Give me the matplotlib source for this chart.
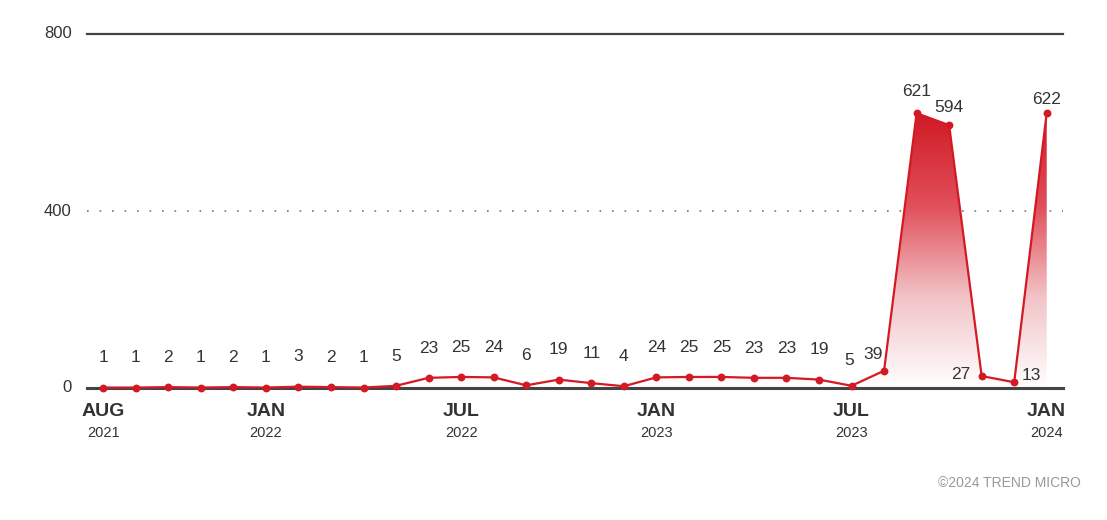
import numpy as np
import matplotlib
matplotlib.use("Agg")
import matplotlib.pyplot as plt
from matplotlib.colors import LinearSegmentedColormap
from matplotlib.patches import Polygon
import matplotlib.transforms as mtransforms

plt.rcParams['font.family'] = ['Liberation Sans', 'DejaVu Sans']

# monthly counts, Aug 2021 - Jan 2024
counts = [1, 1, 2, 1, 2, 1, 3, 2, 1, 5, 23, 25, 24, 6, 19, 11, 4,
          24, 25, 25, 23, 23, 19, 5, 39, 621, 594, 27, 13, 622]
tick_idx = [0, 5, 11, 17, 23, 29]
tick_months = ['AUG', 'JAN', 'JUL', 'JAN', 'JUL', 'JAN']
tick_years = ['2021', '2022', '2022', '2023', '2023', '2024']
y_ticks = [0, 400, 800]

red = '#d31a24'
x = np.arange(len(counts))
y = np.array(counts)

fig = plt.figure(figsize=(11.07, 5.2), dpi=100)
ax = fig.add_axes([87 / 1107, 1 - 388 / 520, (1063 - 87) / 1107, (388 - 34) / 520])
ax.set_xlim(-0.5, len(counts) - 0.5)
ax.set_ylim(0, 800)
ax.axis('off')

# gridlines
ax.axhline(800, color='#444444', lw=1.6, zorder=1, clip_on=False)
ax.axhline(400, color='#777777', lw=1.2, ls=(0, (1, 6.5)), zorder=1)
ax.axhline(0, color='#444444', lw=2.2, zorder=2, clip_on=False)

# gradient fill under the line
cmap = LinearSegmentedColormap.from_list('rg', ['#ffffff', '#f2c2c6', '#e04e59', '#d01a24'])
grad = np.linspace(0, 1, 256).reshape(-1, 1)
top = max(counts)
im = ax.imshow(grad, extent=[x[0], x[-1], 0, top], origin='lower', aspect='auto',
               cmap=cmap, zorder=1.5)
poly = Polygon(np.vstack([np.column_stack([x, y]), [[x[-1], 0], [x[0], 0]]]),
               closed=True, transform=ax.transData, facecolor='none', edgecolor='none')
ax.add_patch(poly)
im.set_clip_path(poly)

ax.plot(x, y, color=red, lw=1.6, zorder=3, clip_on=False)
ax.scatter(x, y, s=32, color=red, zorder=4, clip_on=False, linewidths=0)

# value labels (offsets in points)
side = {27: (-15, 1), 28: (12, 5)}
shift = {23: (-2, -3), 24: (-8, -10), 25: (0, -6), 26: (0, -9), 29: (0, -12)}
for i, v in enumerate(counts):
    if i in side:
        dx, dy = side[i]
        ax.annotate(str(v), (i, v), xytext=(dx, dy), textcoords='offset points',
                    ha='center', va='center', fontsize=12.5, color='#333333', zorder=5)
    else:
        dx, dy = shift.get(i, (0, 0))
        ax.annotate(str(v), (i, v), xytext=(dx, 16 + dy), textcoords='offset points',
                    ha='center', va='bottom', fontsize=12.5, color='#333333', zorder=5)

# y tick labels
for t in y_ticks:
    ax.annotate(str(t), (0, t), xycoords=('axes fraction', 'data'), xytext=(-11, 0),
                textcoords='offset points', ha='right', va='center', fontsize=12, color='#333333')

# x tick labels
trans = mtransforms.blended_transform_factory(ax.transData, fig.transFigure)
for i, m, yr in zip(tick_idx, tick_months, tick_years):
    ax.text(i, 1 - 412 / 520, m, transform=trans, ha='center', va='center',
            fontsize=14, fontweight='bold', color='#333333')
    ax.text(i, 1 - 433 / 520, yr, transform=trans, ha='center', va='center',
            fontsize=10.5, color='#333333')

fig.text(1081 / 1107, 1 - 483 / 520, '©2024 TREND MICRO', ha='right', va='center',
         fontsize=10, color='#999999')

fig.savefig('out.png', dpi=100)
